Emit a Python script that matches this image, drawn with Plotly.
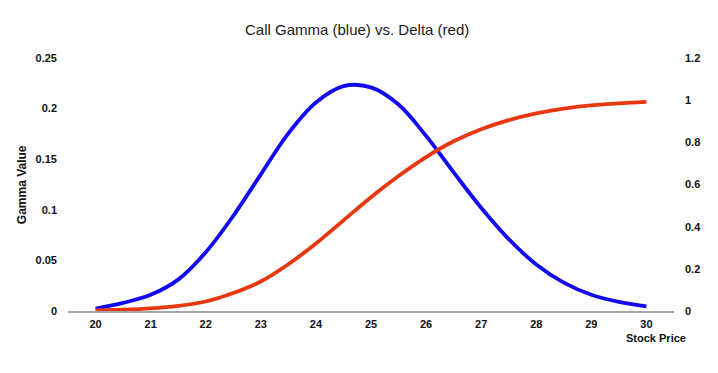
import plotly.graph_objects as go

stock_price = [20, 20.5, 21, 21.5, 22, 22.5, 23, 23.5, 24, 24.5, 25, 25.5,
               26, 26.5, 27, 27.5, 28, 28.5, 29, 29.5, 30]
gamma = [0.0024, 0.008, 0.016, 0.031, 0.058, 0.094, 0.135, 0.1755, 0.206, 0.2222,
         0.221, 0.204, 0.173, 0.137, 0.102, 0.071, 0.046, 0.028, 0.016, 0.009, 0.0046]
delta = [0.003, 0.006, 0.012, 0.024, 0.045, 0.085, 0.14, 0.222, 0.32, 0.43,
         0.54, 0.64, 0.73, 0.805, 0.862, 0.905, 0.937, 0.96, 0.975, 0.985, 0.992]

x_ticks = list(range(20, 31))
gamma_ticks = [0, 0.05, 0.1, 0.15, 0.2, 0.25]
gamma_labels = ["0", "0.05", "0.1", "0.15", "0.2", "0.25"]
delta_ticks = [0, 0.2, 0.4, 0.6, 0.8, 1.0, 1.2]
delta_labels = ["0", "0.2", "0.4", "0.6", "0.8", "1", "1.2"]

BLUE = "#1208f2"
RED = "#e8380f"
FONT = "Liberation Sans Narrow, Liberation Sans, Arial"
tickfont = dict(family=FONT, size=11, color="#111111", weight="bold")

fig = go.Figure()
fig.add_trace(go.Scatter(x=stock_price, y=gamma, mode="lines",
                         line=dict(color=BLUE, width=3.8, shape="spline", smoothing=1.0),
                         name="Gamma", yaxis="y"))
fig.add_trace(go.Scatter(x=stock_price, y=delta, mode="lines",
                         line=dict(color=RED, width=3.8, shape="spline", smoothing=1.0),
                         name="Delta", yaxis="y2"))

fig.update_layout(
    width=710, height=365,
    margin=dict(l=60, r=44, t=50, b=62),
    paper_bgcolor="white", plot_bgcolor="white",
    showlegend=False,
    xaxis=dict(range=[19.5, 30.5], tickvals=x_ticks, ticktext=[str(v) for v in x_ticks],
               showgrid=False, zeroline=False, showline=True, linecolor="#a6a6a6",
               linewidth=1.5, ticks="", tickfont=tickfont, ticklabelstandoff=2,
               automargin=False),
    yaxis=dict(range=[0, 0.25], tickvals=gamma_ticks, ticktext=gamma_labels,
               showgrid=False, zeroline=False, showline=False, ticks="",
               tickfont=tickfont, ticklabelstandoff=10, automargin=False),
    yaxis2=dict(range=[0, 1.2], tickvals=delta_ticks, ticktext=delta_labels,
                overlaying="y", side="right", showgrid=False, zeroline=False,
                showline=False, ticks="", tickfont=tickfont, ticklabelstandoff=10,
                automargin=False),
    annotations=[
        dict(text="Call Gamma (blue) vs. Delta (red)", xref="paper", yref="paper",
             x=0.4777, y=1.1146, xanchor="center", yanchor="middle", showarrow=False,
             font=dict(family="Liberation Sans, Arial", size=15, color="#1a1a1a")),
        dict(text="<b>Gamma Value</b>", xref="paper", yref="paper",
             x=-0.0756, y=0.498, xanchor="center", yanchor="middle", textangle=-90,
             showarrow=False, font=dict(family=FONT, size=12, color="#111111")),
        dict(text="<b>Stock Price</b>", xref="paper", yref="paper",
             x=0.971, y=-0.1067, xanchor="center", yanchor="middle", showarrow=False,
             font=dict(family=FONT, size=11, color="#111111")),
    ],
)

fig.write_html("out.html")
